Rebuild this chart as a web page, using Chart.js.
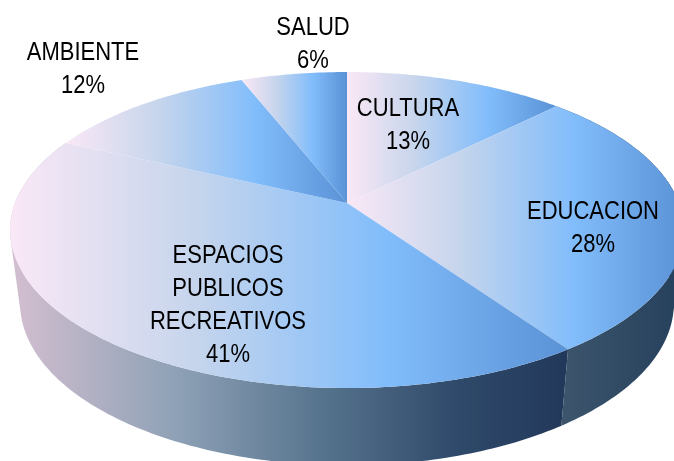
<!DOCTYPE html>
<html><head><meta charset="utf-8">
<style>html,body{margin:0;padding:0;background:#fff;overflow:hidden}canvas{display:block}</style>
<script src="https://cdn.jsdelivr.net/npm/chart.js@4"></script>
</head><body><canvas id="c" width="674" height="461"></canvas>
<script>
const categories = ['CULTURA','EDUCACION','ESPACIOS PUBLICOS RECREATIVOS','AMBIENTE','SALUD'];
const sliceValues = [12.5,27.8,41.6,12.1,6.0];
const percentLabels = ['13%','28%','41%','12%','6%'];
const labelLines = [['CULTURA'],['EDUCACION'],['ESPACIOS','PUBLICOS','RECREATIVOS'],['AMBIENTE'],['SALUD']];

const labelAnchor = [[408,109],[593,212],[228,256],[83,53],[313,28]];
const lineGap = 33;
const topFace = {x:347,y:203,rx:332,ry:153.4};
const botFace = {x:347,y:276,rx:322,ry:157};
const persp = 0.171;
const faceStops = [[0,'#fae8f6'],[0.33,'#c6d5ec'],[0.67,'#82bdfb'],[1,'#5a92d6']];
const sideStops = [
  [[0,'#40586f'],[1,'#25405c']],
  [[0,'#d3bfd0'],[0.3,'#8ea1b6'],[0.55,'#58758f'],[0.8,'#2f4a6a'],[1,'#22385a']]
];
const wallSlices = [1,2];

function proj(f,a){const u=Math.cos(a),v=Math.sin(a),w=1-persp*v;return [f.x+f.rx*u/w,f.y+f.ry*v/w];}
function arcPts(f,a0,a1){const n=Math.max(8,Math.ceil((a1-a0)*60)),p=[];for(let i=0;i<=n;i++)p.push(proj(f,a0+(a1-a0)*i/n));return p;}
function grad(ctx,x0,x1,stops){const g=ctx.createLinearGradient(x0,0,x1,0);stops.forEach(s=>g.addColorStop(s[0],s[1]));return g;}

Chart.ArcElement.prototype.draw=function(ctx){
  const pts=arcPts(topFace,this.startAngle,this.endAngle);
  const xs=pts.map(p=>p[0]).concat(topFace.x);
  ctx.save();
  ctx.beginPath();ctx.moveTo(topFace.x,topFace.y);
  pts.forEach(p=>ctx.lineTo(p[0],p[1]));ctx.closePath();
  ctx.fillStyle=grad(ctx,Math.min(...xs),Math.max(...xs),faceStops);
  ctx.fill();
  ctx.restore();
};

const walls={id:'walls',beforeDatasetsDraw(chart){
  const ctx=chart.ctx,arcs=chart.getDatasetMeta(0).data;
  wallSlices.forEach((idx,k)=>{
    const el=arcs[idx];
    const t=arcPts(topFace,el.startAngle,el.endAngle),b=arcPts(botFace,el.startAngle,el.endAngle);
    const xs=t.concat(b).map(p=>p[0]);
    const x0=Math.min(...xs),x1=Math.max(...xs);
    ctx.save();
    ctx.fillStyle=grad(ctx,k?x0:b[0][0]-4,k?b[0][0]+6:x1,sideStops[k]);
    ctx.beginPath();
    for(let i=0;i<t.length-1;i++){
      let q=[t[i],t[i+1],b[i+1],b[i]],area=0;
      q.forEach((p,j)=>{const n=q[(j+1)%4];area+=p[0]*n[1]-n[0]*p[1];});
      if(area<0)q.reverse();
      ctx.moveTo(q[0][0],q[0][1]);for(let j=1;j<4;j++)ctx.lineTo(q[j][0],q[j][1]);ctx.closePath();
    }
    ctx.fill();
    ctx.restore();
  });
}};

const texts={id:'texts',afterDatasetsDraw(chart){
  const ctx=chart.ctx;ctx.save();
  ctx.font='25px "Liberation Sans"';ctx.fillStyle='#000';ctx.textAlign='center';ctx.textBaseline='middle';
  categories.forEach((c,i)=>{
    const lines=labelLines[i].concat(percentLabels[i]);
    lines.forEach((l,j)=>{
      ctx.save();ctx.translate(labelAnchor[i][0],labelAnchor[i][1]+j*lineGap);ctx.scale(0.88,1);
      ctx.fillText(l,0,0);ctx.restore();
    });
  });
  ctx.restore();
}};

new Chart(document.getElementById('c'),{
  type:'pie',
  data:{labels:categories,datasets:[{data:sliceValues,backgroundColor:'#82bdfb',borderWidth:0}]},
  options:{responsive:false,animation:false,plugins:{legend:{display:false},tooltip:{enabled:false}}},
  plugins:[walls,texts]
});
</script></body></html>
